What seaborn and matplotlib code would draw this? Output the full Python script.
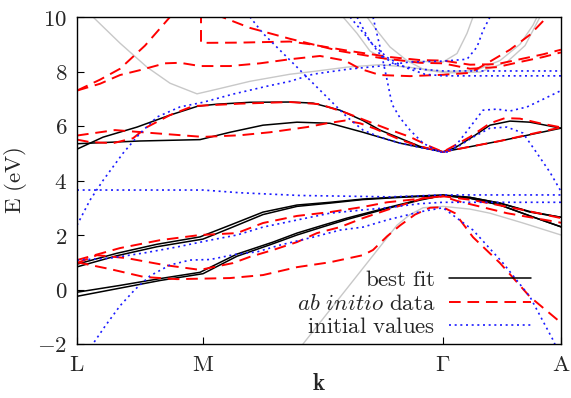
import matplotlib
matplotlib.use("Agg")
import matplotlib.pyplot as plt
import pandas as pd
import seaborn as sns
from matplotlib.lines import Line2D

# ---- k-path (path length units) ----
k_ticks = [0, 126, 366, 484]
k_labels = [r"$\mathrm{L}$", r"$\mathrm{M}$", r"$\Gamma$", r"$\mathrm{A}$"]
e_ticks = [-2, 0, 2, 4, 6, 8, 10]
e_labels = [r"$-2$", r"$0$", r"$2$", r"$4$", r"$6$", r"$8$", r"$10$"]

# ---- best fit bands (k, E) ----
fit_c1 = [(0, 5.15), (26, 5.59), (60, 5.96), (93, 6.4), (121, 6.73), (140, 6.8), (173, 6.87), (213, 6.88),
          (236, 6.84), (263, 6.58), (286, 6.2), (303, 5.85), (323, 5.55), (343, 5.25), (366, 5.05),
          (378, 5.2), (398, 5.66), (413, 6.03), (433, 6.18), (453, 6.14), (484, 5.92)]
fit_c2 = [(0, 5.35), (63, 5.45), (123, 5.5), (153, 5.77), (186, 6.03), (220, 6.14), (253, 6.1),
          (286, 5.77), (323, 5.37), (366, 5.05), (423, 5.45), (484, 5.92)]
fit_v1 = [(0, 0.93), (40, 1.33), (80, 1.66), (123, 1.93), (153, 2.36), (186, 2.84), (220, 3.1),
          (253, 3.2), (286, 3.32), (323, 3.4), (366, 3.47), (393, 3.38), (423, 3.17), (453, 2.86), (484, 2.65)]
fit_v2 = [(0, 0.83), (40, 1.24), (80, 1.57), (126, 1.85), (153, 2.25), (186, 2.75), (220, 3.05),
          (253, 3.17), (286, 3.3), (323, 3.38), (366, 3.45), (393, 3.35), (423, 3.1), (453, 2.7), (484, 2.3)]
fit_v3 = [(0, -0.1), (43, 0.15), (83, 0.4), (123, 0.63), (160, 1.3), (196, 1.74), (220, 2.07),
          (246, 2.36), (270, 2.62), (310, 3.0), (343, 3.3), (366, 3.45), (393, 3.38), (423, 3.17),
          (453, 2.84), (484, 2.65)]
fit_v4 = [(0, -0.25), (43, 0.05), (83, 0.33), (126, 0.58), (160, 1.22), (196, 1.68), (220, 2.0),
          (246, 2.3), (270, 2.57), (310, 2.97), (343, 3.28), (366, 3.45), (393, 3.35), (423, 3.1),
          (453, 2.7), (484, 2.3)]

# ---- ab initio bands (k, E) ----
abi_c1 = [(0, 7.3), (23, 7.7), (43, 8.1), (68, 8.95), (93, 10.0), (98, 10.2)]
abi_c2 = [(0, 7.3), (23, 7.55), (43, 7.87), (63, 8.05), (88, 8.3), (103, 8.32), (123, 8.2), (153, 8.2),
          (183, 8.3), (213, 8.45), (243, 8.57), (268, 8.4), (283, 8.1), (303, 7.87), (333, 7.83),
          (366, 7.88), (393, 7.95), (410, 8.3), (433, 8.8), (453, 9.35), (470, 10.0), (475, 10.2)]
abi_c3 = [(124, 10.2), (124, 9.05), (163, 9.06), (213, 9.1), (233, 9.0), (273, 8.75), (313, 8.53),
          (343, 8.42), (366, 8.4), (393, 8.25), (420, 8.27), (443, 8.45), (466, 8.63), (484, 8.8)]
abi_c4 = [(140, 10.2), (145, 10.0), (173, 9.6), (213, 9.2), (263, 8.75), (303, 8.5), (343, 8.32),
          (366, 8.3), (393, 8.1), (420, 8.16), (443, 8.35), (466, 8.53), (484, 8.7)]
abi_m1 = [(0, 5.65), (38, 5.85), (76, 5.74), (126, 5.6), (163, 5.66), (193, 5.77), (230, 5.96),
          (250, 6.1), (268, 6.2), (283, 6.1), (298, 5.9), (323, 5.5), (343, 5.25), (366, 5.05),
          (423, 5.45), (484, 5.95)]
abi_m2 = [(0, 5.5), (13, 5.41), (36, 5.37), (56, 5.55), (70, 5.96), (93, 6.4), (116, 6.73), (163, 6.82),
          (213, 6.88), (243, 6.8), (270, 6.47), (293, 6.14), (310, 5.9), (333, 5.6), (353, 5.25),
          (366, 5.05), (393, 5.6), (413, 6.1), (428, 6.29), (443, 6.27), (463, 6.1), (484, 5.95)]
abi_v1 = [(0, 1.08), (43, 1.52), (83, 1.81), (123, 2.0), (160, 2.07), (186, 2.44), (220, 2.7),
          (253, 2.84), (286, 3.03), (310, 3.2), (366, 3.42), (396, 3.28), (446, 2.92), (484, 2.62)]
abi_v2 = [(0, 0.97), (20, 1.26), (50, 1.15), (87, 0.9), (123, 0.72), (156, 0.97), (173, 1.2),
          (196, 1.45), (220, 1.74), (240, 2.07), (263, 2.29), (286, 2.62), (310, 2.92), (346, 3.35),
          (366, 3.42), (380, 3.25), (430, 2.8), (484, 2.45)]
abi_v3 = [(0, 1.0), (13, 0.9), (33, 0.75), (67, 0.46), (100, 0.38), (153, 0.42), (186, 0.53),
          (220, 0.82), (253, 1.0), (286, 1.26), (296, 1.45), (310, 1.95), (323, 2.35), (338, 2.75),
          (353, 3.0), (366, 3.02), (378, 2.8), (396, 1.92), (423, 0.97), (453, -0.27), (484, -1.22)]

# ---- initial values bands (k, E) ----
ini_v1 = [(0, 3.65), (73, 3.65), (126, 3.65), (163, 3.55), (223, 3.45), (313, 3.4), (366, 3.47),
          (423, 3.47), (484, 3.47)]
ini_v2 = [(0, 1.08), (33, 1.15), (67, 1.34), (100, 1.56), (133, 1.81), (160, 2.0), (186, 2.29),
          (220, 2.55), (253, 2.8), (286, 2.92), (310, 3.0), (343, 3.15), (366, 3.2), (423, 3.2), (484, 3.2)]
ini_v3 = [(14, -2.1), (28, -1.35), (43, -0.6), (58, 0.0), (73, 0.5), (93, 0.9), (113, 1.08),
          (133, 1.1), (160, 1.3), (180, 1.38), (203, 1.63), (236, 1.92), (263, 2.18), (286, 2.29),
          (310, 2.55), (343, 2.85), (366, 3.0), (396, 2.18), (426, 0.97), (453, -0.27), (476, -1.85),
          (479, -2.1)]
ini_c1 = [(0, 2.36), (13, 3.28), (26, 4.0), (46, 5.0), (63, 5.73), (80, 6.33), (103, 6.7), (126, 6.87),
          (156, 7.17), (190, 7.46), (213, 7.64), (236, 7.9), (270, 8.08), (303, 8.2), (333, 8.35),
          (366, 8.38), (390, 8.45), (400, 8.9), (406, 9.5), (413, 10.0), (415, 10.2)]
ini_c2 = [(171, 10.2), (173, 10.0), (186, 9.4), (203, 8.78), (220, 8.16), (236, 7.57), (253, 6.95),
          (270, 6.33), (286, 5.85), (303, 5.59), (323, 5.37), (346, 5.19), (366, 5.04), (380, 5.22),
          (396, 5.59), (413, 5.92), (430, 5.96), (446, 5.74), (460, 5.0), (473, 4.3), (484, 3.6)]
ini_c3 = [(295, 10.2), (296, 10.0), (303, 8.9), (310, 7.7), (315, 6.8), (323, 6.3), (333, 5.85),
          (346, 5.37), (363, 5.04), (373, 5.05), (383, 5.48), (393, 5.96), (406, 6.58), (420, 6.62),
          (433, 6.55), (450, 6.7), (466, 6.98), (484, 7.3)]
ini_c4 = [(272, 10.2), (273, 10.0), (290, 9.26), (303, 8.63), (318, 8.25), (338, 8.1), (366, 8.02),
          (484, 8.02)]
ini_c5 = [(279, 10.2), (280, 10.0), (293, 9.1), (310, 8.52), (328, 8.15), (348, 7.9), (366, 7.84),
          (484, 7.84)]

# ---- grey reference bands (k, E) ----
ref_c1 = [(14, 10.2), (16, 10.0), (43, 9.04), (70, 8.16), (93, 7.57), (120, 7.18), (140, 7.35),
          (173, 7.64), (213, 7.9), (236, 8.0), (270, 8.16), (303, 8.25), (333, 8.15), (366, 8.0),
          (398, 8.03), (423, 8.4), (443, 9.0), (456, 9.7), (460, 10.0), (461, 10.2)]
ref_c2 = [(289, 10.2), (290, 10.0), (300, 9.5), (313, 8.9), (330, 8.4), (348, 8.05), (370, 7.95),
          (403, 7.98), (430, 8.35), (448, 8.95), (463, 10.0), (465, 10.2)]
ref_c3 = [(265, 10.2), (266, 10.0), (280, 9.4), (293, 8.75), (308, 8.45), (333, 8.38), (366, 8.35),
          (380, 8.66), (390, 9.4), (396, 10.0), (397, 10.2)]
ref_v1 = [(224, -2.2), (226, -2.0), (273, 0.18), (320, 2.36), (333, 2.75), (346, 3.0), (366, 3.05),
          (393, 2.95), (413, 2.8), (446, 2.44), (484, 2.0)]


def to_frame(bands):
    rows = []
    for i, band in enumerate(bands):
        for order, (k, e) in enumerate(band):
            rows.append({"band": i, "order": order, "k": k, "E": e})
    return pd.DataFrame(rows)


ref_df = to_frame([ref_c1, ref_c2, ref_c3, ref_v1])
fit_df = to_frame([fit_c1, fit_c2, fit_v1, fit_v2, fit_v3, fit_v4])
abi_df = to_frame([abi_c1, abi_c2, abi_c3, abi_c4, abi_m1, abi_m2, abi_v1, abi_v2, abi_v3])
ini_df = to_frame([ini_v1, ini_v2, ini_v3, ini_c1, ini_c2, ini_c3, ini_c4, ini_c5])

sns.set_theme(style="white")
plt.rcParams["mathtext.fontset"] = "cm"
plt.rcParams["font.family"] = ["DejaVu Serif"]

fig = plt.figure(figsize=(5.71, 3.98), dpi=100)
ax = fig.add_axes([77 / 571, 1 - 344 / 398, (561 - 77) / 571, (344 - 17) / 398])

red_dash = (0, (6, 3.5))
blue_dot = (0, (1.2, 2.2))

sns.lineplot(data=ref_df, x="k", y="E", units="band", estimator=None, sort=False,
             color="#c8c8c8", linewidth=1.0, ax=ax, legend=False)
sns.lineplot(data=fit_df, x="k", y="E", units="band", estimator=None, sort=False,
             color="black", linewidth=1.1, ax=ax, legend=False)
sns.lineplot(data=abi_df, x="k", y="E", units="band", estimator=None, sort=False,
             color="#ff0000", linewidth=1.4, linestyle=red_dash, ax=ax, legend=False)
sns.lineplot(data=ini_df, x="k", y="E", units="band", estimator=None, sort=False,
             color="#1a1aff", linewidth=1.2, linestyle=blue_dot, ax=ax, legend=False)

FS = 16.5
ax.set_xlim(k_ticks[0], k_ticks[-1])
ax.set_ylim(-2, 10)
ax.set_xticks(k_ticks)
ax.set_xticklabels(k_labels, fontsize=FS)
ax.set_yticks(e_ticks)
ax.set_yticklabels(e_labels, fontsize=FS)
ax.tick_params(direction="in", length=5, width=0.8, color="black", pad=7,
               bottom=True, left=True, top=False, right=False)
ax.set_xlabel(r"$\mathbf{k}$", fontsize=FS, labelpad=-2)
ax.set_ylabel(r"$\mathrm{E\ (eV)}$", fontsize=FS, labelpad=6)
for s in ax.spines.values():
    s.set_color("black")
    s.set_linewidth(1.0)

handles = [
    Line2D([], [], color="black", linewidth=1.1),
    Line2D([], [], color="#ff0000", linewidth=1.4, linestyle=red_dash),
    Line2D([], [], color="#1a1aff", linewidth=1.2, linestyle=blue_dot),
]
labels = [r"$\mathrm{best\ fit}$", r"$\mathit{ab\ initio}\ \mathrm{data}$", r"$\mathrm{initial\ values}$"]
leg = ax.legend(handles, labels, loc="lower right", bbox_to_anchor=(0.972, -0.03), frameon=False,
                markerfirst=False, fontsize=FS, handlelength=3.6, handletextpad=0.6,
                labelspacing=0.05, borderaxespad=0.3)

fig.savefig("out.png", dpi=100)
